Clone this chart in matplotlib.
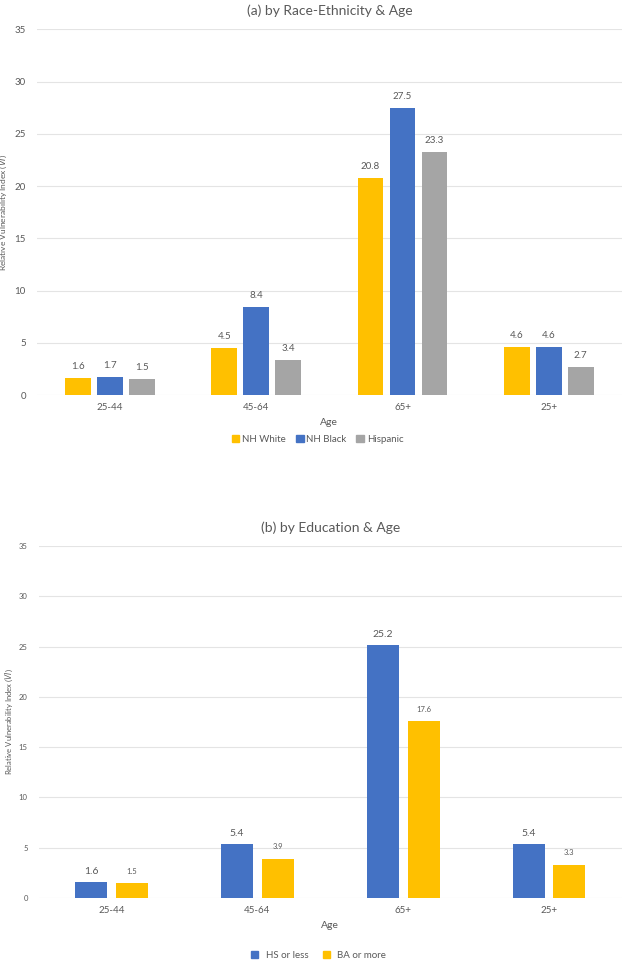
import matplotlib
matplotlib.use("Agg")
import matplotlib.pyplot as plt
import numpy as np
from matplotlib.patches import Patch

plt.rcParams['font.family'] = ['Lato', 'DejaVu Sans']

ages = ["25-44", "45-64", "65+", "25+"]
race_names = ["NH White", "NH Black", "Hispanic"]
nh_white = [1.6, 4.5, 20.8, 4.6]
nh_black = [1.7, 8.4, 27.5, 4.6]
hispanic = [1.5, 3.4, 23.3, 2.7]
edu_names = ["HS or less", "BA or more"]
hs_or_less = [1.6, 5.4, 25.2, 5.4]
ba_or_more = [1.5, 3.9, 17.6, 3.3]
yticks = [0, 5, 10, 15, 20, 25, 30, 35]

YEL = "#FFC000"
BLU = "#4472C4"
GRY = "#A5A5A5"
TXT = "#595959"
GRID = "#E4E4E4"

fig = plt.figure(figsize=(6.25, 9.6), dpi=100)

def style(ax, tick_fs, ylab_fs, ylab_x):
    ax.set_ylim(0, 35)
    ax.set_xlim(-0.5, 3.5)
    ax.set_yticks(yticks)
    ax.set_xticks(range(len(ages)))
    ax.set_xticklabels(ages)
    for s in ax.spines.values():
        s.set_visible(False)
    ax.grid(axis='y', color=GRID, linewidth=0.8)
    ax.set_axisbelow(True)
    ax.tick_params(axis='both', length=0, colors=TXT)
    ax.tick_params(axis='y', labelsize=tick_fs, pad=8)
    ax.tick_params(axis='x', labelsize=7, pad=6)
    ax.set_ylabel("Relative Vulnerability Index ($\\it{VI}$)", fontsize=ylab_fs, color=TXT)
    ax.yaxis.set_label_coords(ylab_x, 0.5)
    ax.set_xlabel("Age", fontsize=7.5, color=TXT, labelpad=4)

# Top chart
ax1 = fig.add_axes([0.059, 0.5885, 0.936, 0.3810])
x = np.arange(len(ages))
w = 0.175
p = 0.219
series = [(nh_white, YEL), (nh_black, BLU), (hispanic, GRY)]
for i, (vals, c) in enumerate(series):
    bars = ax1.bar(x + (i - 1) * p, vals, width=w, color=c)
    for b, v in zip(bars, vals):
        ax1.annotate(f"{v:.1f}", (b.get_x() + b.get_width() / 2, v), xytext=(0, 5),
                     textcoords='offset points', ha='center', va='bottom', fontsize=7, color=TXT)
style(ax1, 7, 6, -0.047)
ax1.set_title("(a) by Race-Ethnicity & Age", fontsize=10, color=TXT, pad=10)
h1 = [Patch(color=c) for _, c in series]
ax1.legend(h1, race_names, loc='upper center', bbox_to_anchor=(0.48, -0.085), ncol=3,
           frameon=False, fontsize=7, labelcolor=TXT, handlelength=0.8, handleheight=0.8,
           handletextpad=0.3, columnspacing=1.0)

# Bottom chart
ax2 = fig.add_axes([0.062, 0.0646, 0.933, 0.3667])
w2 = 0.22
p2 = 0.28
b1 = ax2.bar(x - p2 / 2, hs_or_less, width=w2, color=BLU)
b2 = ax2.bar(x + p2 / 2, ba_or_more, width=w2, color=YEL)
for b, v in zip(b1, hs_or_less):
    ax2.annotate(f"{v:.1f}", (b.get_x() + b.get_width() / 2, v), xytext=(0, 4),
                 textcoords='offset points', ha='center', va='bottom', fontsize=7.5, color=TXT)
for b, v in zip(b2, ba_or_more):
    ax2.annotate(f"{v:.1f}", (b.get_x() + b.get_width() / 2, v), xytext=(0, 6),
                 textcoords='offset points', ha='center', va='bottom', fontsize=5.5, color=TXT)
style(ax2, 5.5, 5.5, -0.04)
ax2.set_title("(b) by Education & Age", fontsize=10, color=TXT, pad=10)
h2 = [Patch(color=BLU), Patch(color=YEL)]
ax2.legend(h2, edu_names, loc='upper center', bbox_to_anchor=(0.48, -0.125), ncol=2,
           frameon=False, fontsize=7, labelcolor=TXT, handlelength=0.7, handleheight=0.7,
           handletextpad=0.8, columnspacing=1.5)

fig.savefig("out.png", dpi=100)
